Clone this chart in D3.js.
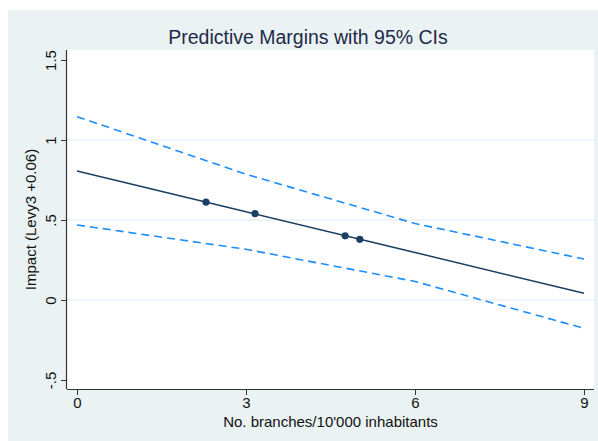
<!DOCTYPE html>
<html>
<head>
<meta charset="utf-8">
<script src="https://cdn.jsdelivr.net/npm/d3@7"></script>
<style>
  html, body { margin: 0; padding: 0; background: #ffffff; }
  svg { display: block; font-family: "Liberation Sans", Arial, sans-serif; }
</style>
</head>
<body>
<svg id="chart" width="598" height="441"></svg>
<script>
// Evaluation points of the margins (branches per 10'000 inhabitants)
const atValues = [0, 3, 6, 9];
// Predicted margin and 95% confidence bounds at those points
const margin = [0.806, 0.551, 0.297, 0.042];
const upperCI = [1.146, 0.786, 0.478, 0.256];
const lowerCI = [0.469, 0.317, 0.116, -0.177];
// Observed margins shown as markers
const obsX = [2.29, 3.16, 4.76, 5.02];
const obsY = [0.612, 0.540, 0.401, 0.379];
// Axis ticks
const xTicks = [0, 3, 6, 9];
const yTicks = [-0.5, 0, 0.5, 1, 1.5];
const yTickLabels = ["-.5", "0", ".5", "1", "1.5"];
const gridValues = [0, 0.5, 1];

const svg = d3.select("#chart");
const W = 598, H = 441;

// Graph region background
svg.append("rect").attr("x", 8).attr("y", 10).attr("width", W - 8).attr("height", H - 10)
  .attr("fill", "#eaf2f3");

// Plot region
const plot = { left: 67, right: 594, top: 50, bottom: 389 };
svg.append("rect").attr("x", plot.left).attr("y", plot.top)
  .attr("width", plot.right - plot.left).attr("height", plot.bottom - plot.top)
  .attr("fill", "#ffffff");

const x = d3.scaleLinear().domain([0, 9]).range([77, 584]);
const y = d3.scaleLinear().domain([0, 1]).range([300, 140]);

// Gridlines
svg.append("g").selectAll("line").data(gridValues).join("line")
  .attr("x1", plot.left).attr("x2", plot.right)
  .attr("y1", d => y(d)).attr("y2", d => y(d))
  .attr("stroke", "#eaf2f3").attr("stroke-width", 1.5);

// Axes
const xAxis = d3.axisBottom(x).tickValues(xTicks).tickSize(6).tickPadding(2)
  .tickFormat(d3.format("d"));
const gx = svg.append("g").attr("transform", `translate(0,${plot.bottom})`).call(xAxis);
gx.select(".domain").attr("d", `M${plot.left},0.5H${plot.right}`)
  .attr("stroke", "#333333").attr("stroke-width", 1.2);
gx.selectAll(".tick line").attr("stroke", "#333333");
gx.selectAll(".tick text").attr("font-size", 15).attr("fill", "#111111")
  .attr("font-family", "Liberation Sans, Arial, sans-serif");

const yAxis = d3.axisLeft(y).tickValues(yTicks).tickSize(6).tickPadding(3)
  .tickFormat((d, i) => yTickLabels[i]);
const gy = svg.append("g").attr("transform", `translate(${plot.left},0)`).call(yAxis);
gy.select(".domain").attr("d", `M-0.5,${plot.top}V${plot.bottom}`)
  .attr("stroke", "#333333").attr("stroke-width", 1.2);
gy.selectAll(".tick line").attr("stroke", "#333333");
gy.selectAll(".tick text")
  .attr("font-size", 15).attr("fill", "#111111")
  .attr("font-family", "Liberation Sans, Arial, sans-serif")
  .attr("x", null).attr("dy", null)
  .attr("text-anchor", "middle")
  .attr("transform", "translate(-11,0) rotate(-90)");

// Confidence bounds
const line = d3.line().x(d => x(d[0])).y(d => y(d[1]));
[upperCI, lowerCI].forEach(b => {
  svg.append("path").datum(atValues.map((v, i) => [v, b[i]]))
    .attr("d", line).attr("fill", "none")
    .attr("stroke", "#1e8cff").attr("stroke-width", 1.6)
    .attr("stroke-dasharray", "8,5");
});

// Predicted margin
svg.append("path").datum(atValues.map((v, i) => [v, margin[i]]))
  .attr("d", line).attr("fill", "none")
  .attr("stroke", "#1a3f63").attr("stroke-width", 1.5);

svg.append("g").selectAll("circle").data(obsX.map((v, i) => [v, obsY[i]])).join("circle")
  .attr("cx", d => x(d[0])).attr("cy", d => y(d[1])).attr("r", 3.6)
  .attr("fill", "#1a3f63");

// Titles
svg.append("text").attr("x", 308).attr("y", 44).attr("text-anchor", "middle")
  .attr("font-size", 19.5).attr("fill", "#1e2a48")
  .text("Predictive Margins with 95% CIs");

svg.append("text").attr("x", (plot.left + plot.right) / 2).attr("y", 427)
  .attr("text-anchor", "middle").attr("font-size", 15).attr("fill", "#111111")
  .text("No. branches/10'000 inhabitants");

svg.append("text").attr("transform", `translate(36,${(plot.top + plot.bottom) / 2}) rotate(-90)`)
  .attr("text-anchor", "middle").attr("font-size", 15).attr("fill", "#111111")
  .text("Impact (Levy3 +0.06)");
</script>
</body>
</html>
